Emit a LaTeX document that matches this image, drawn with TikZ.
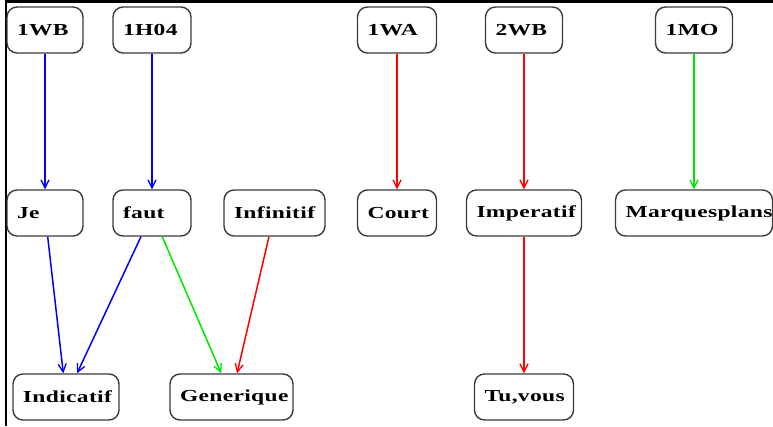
\documentclass[tikz,border=0pt]{standalone}
\usepackage{fontspec}
\newfontfamily\nodefont{Liberation Serif}[FakeStretch=1.4, LetterSpace=2]
\usetikzlibrary{arrows.meta}

\definecolor{edgeblue}{RGB}{0,0,255}
\definecolor{edgered}{RGB}{255,0,0}
\definecolor{edgegreen}{RGB}{0,230,0}
\definecolor{boxline}{RGB}{60,60,60}

\tikzset{
  tag/.style={draw=boxline, line width=1.4pt, rounded corners=10pt,
    minimum height=46pt, inner xsep=10pt, inner ysep=0pt,
    text width=#1-20pt, align=left,
    font=\nodefont\bfseries\fontsize{16.8}{18}\selectfont},
  link/.style={line width=1.5pt, -{Straight Barb[length=8pt,width=8pt,line width=1.3pt]}},
  blue link/.style={link, draw=edgeblue},
  red link/.style={link, draw=edgered},
  green link/.style={link, draw=edgegreen},
  frame/.style={line width=#1, draw=black}
}

\begin{document}
\begin{tikzpicture}[x=1pt,y=-1pt]
  \useasboundingbox (0,0) rectangle (773,426);
  \fill[white] (0,0) rectangle (773,426);

  % outer frame, top and left sides
  \draw[frame=3pt] (5,1.5) -- (773,1.5);
  \draw[frame=2pt] (6,0) -- (6,426);

  % source codes
  \node[tag=76pt]  (wb1)  at (45,30)    {1WB};
  \node[tag=78pt]  (h04)  at (152,30)   {1H04};
  \node[tag=79pt]  (wa1)  at (397,30)   {1WA};
  \node[tag=77pt]  (wb2)  at (524,30)   {2WB};
  \node[tag=77pt]  (mo1)  at (694,30)   {1MO};

  % middle layer
  \node[tag=76pt]  (je)    at (45,213)    {Je};
  \node[tag=78pt]  (faut)  at (152,213)   {faut};
  \node[tag=101pt] (inf)   at (274.5,213) {Infinitif};
  \node[tag=79pt, align=center] (court) at (397,213) {Court};
  \node[tag=115pt] (imp)   at (524,213)   {Imperatif};
  \node[tag=157pt] (marq)  at (694,213)   {Marquesplans};

  % bottom layer
  \node[tag=106pt] (ind)   at (66,397)    {Indicatif};
  \node[tag=123pt] (gen)   at (231.5,397) {Generique};
  \node[tag=99pt]  (tuv)   at (524,397)   {Tu,vous};

  % connectors
  \draw[blue link]  (wb1) -- (je);
  \draw[blue link]  (h04) -- (faut);
  \draw[red link]   (wa1) -- (court);
  \draw[red link]   (wb2) -- (imp);
  \draw[green link] (mo1) -- (marq);

  \draw[blue link]  (je) -- (ind);
  \draw[blue link]  (faut) -- (ind);
  \draw[green link] (faut) -- (gen);
  \draw[red link]   (inf) -- (gen);
  \draw[red link]   (imp) -- (tuv);
\end{tikzpicture}
\end{document}
